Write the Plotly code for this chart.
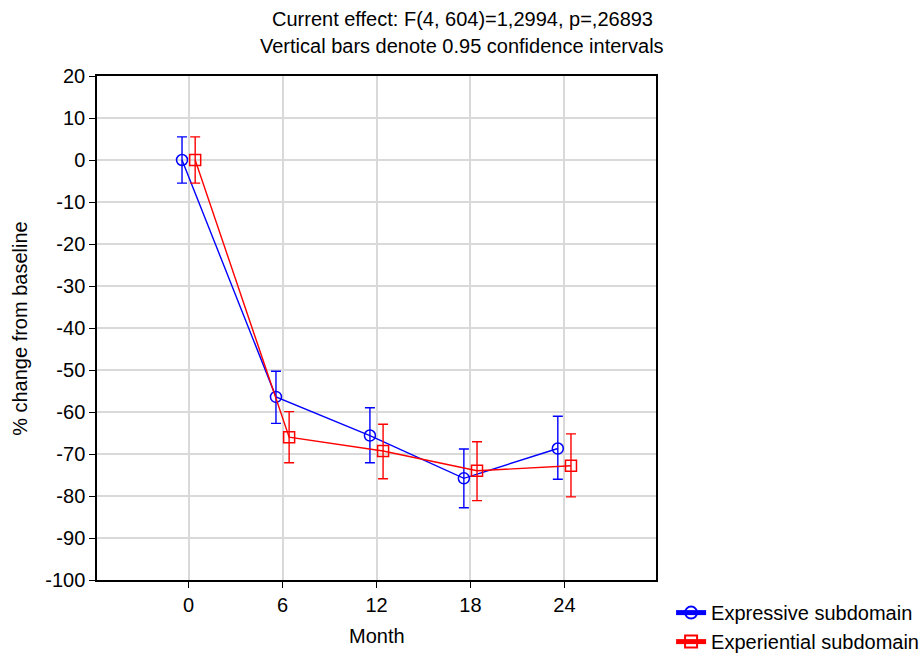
import plotly.graph_objects as go

months = ["0", "6", "12", "18", "24"]
expressive = [0.0, -56.4, -65.6, -75.8, -68.7]
expressive_upper = [5.5, -50.3, -59.0, -68.8, -61.0]
expressive_lower = [-5.5, -62.7, -72.1, -82.8, -76.0]
experiential = [0.0, -66.0, -69.3, -74.0, -72.8]
experiential_upper = [5.5, -59.9, -62.9, -67.1, -65.2]
experiential_lower = [-5.5, -72.1, -75.9, -81.1, -80.2]
y_ticks = list(range(-100, 21, 10))
y_ticktext = [str(v).replace("−", "-") for v in y_ticks]

idx = list(range(len(months)))
off = 0.07
FS = 20

def plus(v, u):
    return [a - b for a, b in zip(u, v)]

def minus(v, l):
    return [b - a for a, b in zip(l, v)]

fig = go.Figure()
fig.add_trace(go.Scatter(
    x=[i - off for i in idx], y=expressive, name="Expressive subdomain",
    mode="lines+markers",
    line=dict(color="#0000ff", width=1.4),
    marker=dict(symbol="circle-open", size=11, color="#0000ff", line=dict(width=1.5)),
    error_y=dict(type="data", symmetric=False,
                 array=plus(expressive, expressive_upper),
                 arrayminus=minus(expressive, expressive_lower),
                 color="#0000ff", thickness=1.4, width=5),
))
fig.add_trace(go.Scatter(
    x=[i + off for i in idx], y=experiential, name="Experiential subdomain",
    mode="lines+markers",
    line=dict(color="#ff0000", width=1.4),
    marker=dict(symbol="square-open", size=11, color="#ff0000", line=dict(width=1.5)),
    error_y=dict(type="data", symmetric=False,
                 array=plus(experiential, experiential_upper),
                 arrayminus=minus(experiential, experiential_lower),
                 color="#ff0000", thickness=1.4, width=5),
))

annots = [
    dict(text="Current effect: F(4, 604)=1,2994, p=,26893", x=0.653, y=1.113,
         xref="paper", yref="paper", xanchor="center", yanchor="middle",
         showarrow=False, font=dict(size=FS)),
    dict(text="Vertical bars denote 0.95 confidence intervals", x=0.653, y=1.06,
         xref="paper", yref="paper", xanchor="center", yanchor="middle",
         showarrow=False, font=dict(size=FS)),
    dict(text="Month", x=0.5, y=-0.111, xref="paper", yref="paper",
         xanchor="center", yanchor="middle", showarrow=False, font=dict(size=FS)),
    dict(text="% change from baseline", x=-0.138, y=0.5, xref="paper", yref="paper",
         xanchor="center", yanchor="middle", textangle=-90, showarrow=False,
         font=dict(size=FS)),
]

fig.update_layout(
    width=919, height=653,
    margin=dict(l=97, r=263, t=76, b=73, autoexpand=False),
    paper_bgcolor="white", plot_bgcolor="white",
    font=dict(family="Liberation Sans, Arial, sans-serif", size=FS, color="black"),
    annotations=annots,
    showlegend=True,
    legend=dict(x=1.027, y=-0.026, xanchor="left", yanchor="top",
                bgcolor="rgba(0,0,0,0)", font=dict(size=FS),
                tracegroupgap=0, itemsizing="constant"),
    xaxis=dict(
        range=[-0.975, 4.975],
        tickmode="array", tickvals=idx, ticktext=months,
        tickfont=dict(size=FS),
        showgrid=True, gridcolor="#d9d9d9", gridwidth=1.5,
        showline=True, linecolor="black", linewidth=1.5, mirror=True,
        ticks="outside", ticklen=6, tickcolor="black",
        zeroline=False,
    ),
    yaxis=dict(
        range=[-100, 20],
        tickmode="array", tickvals=y_ticks, ticktext=y_ticktext,
        tickfont=dict(size=FS),
        showgrid=True, gridcolor="#d9d9d9", gridwidth=1.5,
        showline=True, linecolor="black", linewidth=1.5, mirror=True,
        ticks="outside", ticklen=6, tickcolor="black",
        zeroline=False,
    ),
)

fig.write_html("out.html", post_script="document.body.style.margin='0';",
               config={"displayModeBar": False})
